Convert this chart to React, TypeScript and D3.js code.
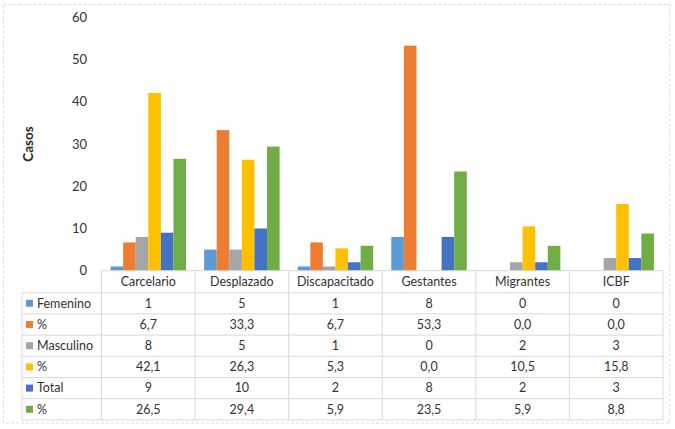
import React, { useRef, useEffect } from "react";
import * as d3 from "d3";

const categories = ["Carcelario", "Desplazado", "Discapacitado", "Gestantes", "Migrantes", "ICBF"];
const seriesNames = ["Femenino", "%", "Masculino", "%", "Total", "%"];
const seriesColors = ["#5B9BD5", "#ED7D31", "#A5A5A5", "#FFC000", "#4472C4", "#70AD47"];

const femenino = [1, 5, 1, 8, 0, 0];
const femeninoPct = [6.7, 33.3, 6.7, 53.3, 0.0, 0.0];
const masculino = [8, 5, 1, 0, 2, 3];
const masculinoPct = [42.1, 26.3, 5.3, 0.0, 10.5, 15.8];
const total = [9, 10, 2, 8, 2, 3];
const totalPct = [26.5, 29.4, 5.9, 23.5, 5.9, 8.8];

// decimals shown in the data table for each series
const seriesDecimals = [0, 1, 0, 1, 0, 1];
const yTicks = [0, 10, 20, 30, 40, 50, 60];

const series = [femenino, femeninoPct, masculino, masculinoPct, total, totalPct];

const W = 675;
const H = 429;
const FONT = "Lato, 'Open Sans', sans-serif";

const App: React.FC = () => {
  const ref = useRef<SVGSVGElement>(null);

  useEffect(() => {
    if (!ref.current) return;
    const svg = d3.select(ref.current);
    svg.selectAll("*").remove();

    const plot = { left: 101.5, right: 663, top: 17.4, bottom: 270.7 };
    const legendLeft = 22;
    const headerH = 22;
    const rowH = 21.2;
    const grid = "#d9d9d9";
    const textColor = "#333333";

    // outer chart frame
    svg
      .append("rect")
      .attr("x", 3.5)
      .attr("y", 4.5)
      .attr("width", 666)
      .attr("height", 418.5)
      .attr("fill", "#fff")
      .attr("stroke", "#dcdcdc")
      .attr("stroke-dasharray", "3 2")
      .attr("stroke-width", 1);

    const x0 = d3.scaleBand<string>().domain(categories).range([plot.left, plot.right]);
    const x1 = d3
      .scaleBand<number>()
      .domain(d3.range(series.length))
      .range([0, x0.bandwidth()])
      .paddingOuter(0.72);
    const y = d3.scaleLinear().domain([0, 60]).range([plot.bottom, plot.top]);

    // y tick labels (no axis line, no gridlines)
    svg
      .append("g")
      .selectAll("text")
      .data(yTicks)
      .join("text")
      .attr("x", 87)
      .attr("y", (d) => y(d))
      .attr("dy", "0.35em")
      .attr("text-anchor", "end")
      .attr("font-family", FONT)
      .attr("font-size", 13)
      .attr("fill", textColor)
      .text((d) => d);

    svg
      .append("text")
      .attr("transform", `translate(28,${y(30)}) rotate(-90)`)
      .attr("text-anchor", "middle")
      .attr("dy", "0.35em")
      .attr("font-family", FONT)
      .attr("font-size", 13.5)
      .attr("font-weight", "bold")
      .attr("fill", "#262626")
      .text("Casos");

    // bars
    const groups = svg
      .append("g")
      .selectAll("g")
      .data(categories)
      .join("g")
      .attr("transform", (d) => `translate(${x0(d)},0)`);

    groups
      .selectAll("rect")
      .data((_, ci) => series.map((s, si) => ({ si, v: s[ci] })))
      .join("rect")
      .attr("x", (d) => x1(d.si)!)
      .attr("width", x1.bandwidth())
      .attr("y", (d) => y(d.v))
      .attr("height", (d) => y(0) - y(d.v))
      .attr("fill", (d) => seriesColors[d.si]);

    // data table
    const tableTop = plot.bottom;
    const rowsTop = tableTop + headerH;
    const tableBottom = rowsTop + rowH * series.length;
    const tbl = svg.append("g");

    // horizontal lines
    tbl
      .append("line")
      .attr("x1", plot.left)
      .attr("x2", plot.right)
      .attr("y1", tableTop)
      .attr("y2", tableTop)
      .attr("stroke", grid);
    d3.range(series.length + 1).forEach((i) => {
      const yy = rowsTop + i * rowH;
      tbl
        .append("line")
        .attr("x1", legendLeft)
        .attr("x2", plot.right)
        .attr("y1", yy)
        .attr("y2", yy)
        .attr("stroke", grid);
    });

    // vertical lines
    const colEdges = categories.map((c) => x0(c)!).concat([plot.right]);
    colEdges.forEach((xx) => {
      tbl
        .append("line")
        .attr("x1", xx)
        .attr("x2", xx)
        .attr("y1", tableTop)
        .attr("y2", tableBottom)
        .attr("stroke", grid);
    });
    tbl
      .append("line")
      .attr("x1", legendLeft)
      .attr("x2", legendLeft)
      .attr("y1", rowsTop)
      .attr("y2", tableBottom)
      .attr("stroke", grid);

    // category headers
    tbl
      .selectAll("text.cat")
      .data(categories)
      .join("text")
      .attr("class", "cat")
      .attr("x", (d) => x0(d)! + x0.bandwidth() / 2)
      .attr("y", tableTop + headerH / 2)
      .attr("dy", "0.35em")
      .attr("text-anchor", "middle")
      .attr("font-family", FONT)
      .attr("font-size", 12.5)
      .attr("fill", textColor)
      .text((d) => d);

    const fmt = (v: number, dec: number) => v.toFixed(dec).replace(".", ",");

    series.forEach((s, si) => {
      const cy = rowsTop + si * rowH + rowH / 2;
      tbl
        .append("rect")
        .attr("x", 26)
        .attr("y", cy - 3.5)
        .attr("width", 7)
        .attr("height", 7)
        .attr("fill", seriesColors[si]);
      tbl
        .append("text")
        .attr("x", 37)
        .attr("y", cy)
        .attr("dy", "0.35em")
        .attr("font-family", FONT)
        .attr("font-size", 12.5)
        .attr("fill", textColor)
        .text(seriesNames[si]);
      tbl
        .append("g")
        .selectAll("text")
        .data(s)
        .join("text")
        .attr("x", (_, ci) => x0(categories[ci])! + x0.bandwidth() / 2)
        .attr("y", cy)
        .attr("dy", "0.35em")
        .attr("text-anchor", "middle")
        .attr("font-family", FONT)
        .attr("font-size", 12.5)
        .attr("fill", textColor)
        .text((v) => fmt(v, seriesDecimals[si]));
    });
  }, []);

  return (
    <svg
      ref={ref}
      width={W}
      height={H}
      style={{ position: "absolute", left: 0, top: 0, display: "block", background: "#fff" }}
    ></svg>
  );
};

export default App;
